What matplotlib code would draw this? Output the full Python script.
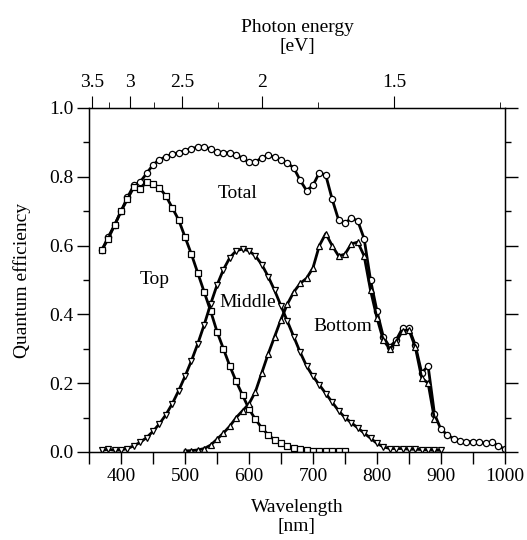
import numpy as np
import matplotlib
matplotlib.use("Agg")
import matplotlib.pyplot as plt
from matplotlib.ticker import MultipleLocator, FormatStrFormatter

plt.rcParams['font.family'] = ['Liberation Serif', 'DejaVu Serif']

# ---- data ----
wl_total = [370, 380, 390, 400, 410, 420, 430, 440, 450, 460, 470, 480,
            490, 500, 510, 520, 530, 540, 550, 560, 570, 580, 590, 600,
            610, 620, 630, 640, 650, 660, 670, 680, 690, 700, 710, 720,
            730, 740, 750, 760, 770, 780, 790, 800, 810, 820, 830, 840,
            850, 860, 870, 880, 890, 900, 910, 920, 930, 940, 950, 960,
            970, 980, 990, 1000]
qe_total = [0.587, 0.625, 0.66, 0.70, 0.74, 0.775, 0.785, 0.81, 0.835, 0.85,
            0.858, 0.866, 0.87, 0.876, 0.882, 0.886, 0.888, 0.88, 0.872,
            0.87, 0.87, 0.864, 0.854, 0.842, 0.842, 0.856, 0.862, 0.858,
            0.848, 0.84, 0.826, 0.79, 0.76, 0.775, 0.812, 0.805, 0.735,
            0.675, 0.665, 0.68, 0.672, 0.62, 0.50, 0.41, 0.335, 0.305, 0.325,
            0.36, 0.36, 0.31, 0.23, 0.25, 0.11, 0.066, 0.05, 0.038,
            0.032, 0.03, 0.03, 0.029, 0.025, 0.028, 0.018, 0.008]

wl_top = [370, 380, 390, 400, 410, 420, 430, 440, 450, 460, 470, 480, 490,
          500, 510, 520, 530, 540, 550, 560, 570, 580, 590, 600, 610, 620,
          630, 640, 650, 660, 670, 680, 690, 700, 710, 720, 730, 740, 750]
qe_top = [0.587, 0.62, 0.66, 0.70, 0.735, 0.77, 0.765, 0.785, 0.78, 0.768,
          0.745, 0.71, 0.675, 0.625, 0.575, 0.52, 0.465, 0.41, 0.35, 0.30,
          0.25, 0.205, 0.165, 0.125, 0.095, 0.07, 0.05, 0.035, 0.025, 0.018,
          0.012, 0.008, 0.005, 0.004, 0.003, 0.003, 0.003, 0.003, 0.003]

wl_mid = [370, 380, 390, 400, 410, 420, 430, 440, 450, 460, 470, 480, 490,
          500, 510, 520, 530, 540, 550, 560, 570, 580, 590, 600, 610, 620,
          630, 640, 650, 660, 670, 680, 690, 700, 710, 720, 730, 740, 750,
          760, 770, 780, 790, 800, 810, 820, 830, 840, 850, 860, 870, 880,
          890, 900]
qe_mid = [0.005, 0.008, 0.005, 0.006, 0.01, 0.018, 0.028, 0.042, 0.06,
          0.082, 0.108, 0.14, 0.178, 0.22, 0.265, 0.315, 0.37, 0.43, 0.485,
          0.53, 0.565, 0.585, 0.59, 0.585, 0.57, 0.545, 0.51, 0.47, 0.425,
          0.38, 0.335, 0.29, 0.25, 0.22, 0.195, 0.17, 0.145, 0.12, 0.10,
          0.085, 0.07, 0.055, 0.04, 0.025, 0.015, 0.01, 0.01, 0.01, 0.008,
          0.008, 0.007, 0.006, 0.005, 0.005]

wl_bot = [500, 510, 520, 530, 540, 550, 560, 570, 580, 590, 600, 610, 620,
          630, 640, 650, 660, 670, 680, 690, 700, 710, 720, 730, 740, 750,
          760, 770, 780, 790, 800, 810, 820, 830, 840, 850, 860, 870, 880,
          890]
qe_bot = [0.003, 0.004, 0.006, 0.01, 0.02, 0.037, 0.055, 0.075, 0.10,
          0.12, 0.14, 0.175, 0.23, 0.285, 0.335, 0.385, 0.43, 0.465, 0.49,
          0.505, 0.535, 0.60, 0.635, 0.60, 0.57, 0.575, 0.605, 0.61, 0.57,
          0.47, 0.39, 0.325, 0.3, 0.32, 0.352, 0.355, 0.305, 0.215, 0.2,
          0.095]

ev_major = [3.5, 3, 2.5, 2, 1.5]
ev_labels = ['3.5', '3', '2.5', '2', '1.5']
ev_minor = [3.25, 2.75, 2.25, 1.75, 1.25]

# ---- figure ----
fig = plt.figure(figsize=(5.27, 5.40), dpi=100)
ax = fig.add_axes([0.169, 0.163, 0.789, 0.637])

mk = dict(color='black', lw=2.0, mfc='white', mec='black', mew=0.9, ms=4.5)
ax.plot(wl_total, qe_total, marker='o', **mk)
ax.plot(wl_top, qe_top, marker='s', **mk)
ax.plot(wl_mid, qe_mid, marker='v', **mk)
ax.plot(wl_bot, qe_bot, marker='^', **mk)

ax.set_xlim(350, 1000)
ax.set_ylim(0, 1.0)
ax.xaxis.set_major_locator(MultipleLocator(100))
ax.xaxis.set_minor_locator(MultipleLocator(50))
ax.yaxis.set_major_locator(MultipleLocator(0.2))
ax.yaxis.set_minor_locator(MultipleLocator(0.1))
ax.yaxis.set_major_formatter(FormatStrFormatter('%.1f'))
ax.tick_params(which='both', direction='out', labelsize=14, width=1.0)
ax.tick_params(axis='x', which='both', length=8.5, pad=3)
ax.tick_params(axis='y', which='major', length=9, right=True, pad=2)
ax.tick_params(axis='y', which='minor', length=4.5, right=True)
for s in ax.spines.values():
    s.set_linewidth(1.0)

ax.set_xlabel('Wavelength\n[nm]', fontsize=14, linespacing=1.15, labelpad=10)
ax.set_ylabel('Quantum efficiency', fontsize=14, labelpad=13)

# top axis in photon energy
ax2 = ax.twiny()
ax2.set_xlim(ax.get_xlim())
ax2.set_xticks([1240.0 / e for e in ev_major])
ax2.set_xticklabels(ev_labels)
ax2.set_xticks([1240.0 / e for e in ev_minor], minor=True)
ax2.tick_params(which='major', direction='out', length=9, labelsize=14, pad=3)
ax2.tick_params(which='minor', direction='out', length=4.5)
ax2.set_xlabel('Photon energy\n[eV]', fontsize=14, linespacing=1.15, labelpad=17)

ax.text(582, 0.75, 'Total', fontsize=14, ha='center', va='center')
ax.text(452, 0.50, 'Top', fontsize=14, ha='center', va='center')
ax.text(598, 0.436, 'Middle', fontsize=14, ha='center', va='center')
ax.text(746, 0.366, 'Bottom', fontsize=14, ha='center', va='center')

fig.savefig('out.png', dpi=100)
